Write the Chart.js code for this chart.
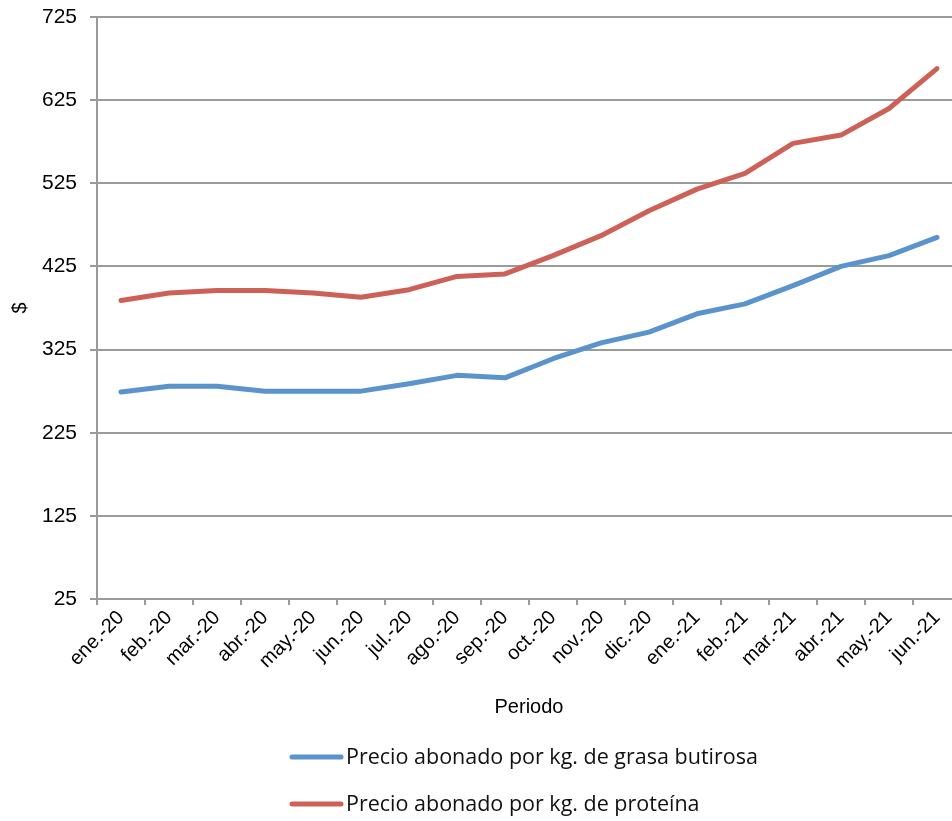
<!DOCTYPE html>
<html>
<head>
<meta charset="utf-8">
<script src="https://cdn.jsdelivr.net/npm/chart.js@4/dist/chart.umd.min.js"></script>
<style>
  html, body { margin: 0; padding: 0; background: #fff; overflow: hidden; }
  #wrap { position: relative; width: 975px; height: 821px; }
</style>
</head>
<body>
<div id="wrap"><canvas id="c"></canvas></div>
<script>
/* datos del gráfico */
const periodos = ['ene.-20','feb.-20','mar.-20','abr.-20','may.-20','jun.-20','jul.-20','ago.-20','sep.-20',
  'oct.-20','nov.-20','dic.-20','ene.-21','feb.-21','mar.-21','abr.-21','may.-21','jun.-21'];
const grasa = [274, 281, 281, 275, 275, 275, 284, 294, 291, 314, 333, 346, 368, 380, 402, 425, 438, 460];
const proteina = [384, 393, 396, 396, 393, 388, 397, 413, 416, 438, 462, 492, 518, 537, 573, 583, 615, 663];
const yTicks = [25, 125, 225, 325, 425, 525, 625, 725];
const nombres = ['Precio abonado por kg. de grasa butirosa', 'Precio abonado por kg. de proteína'];

const AZUL = '#5b93cc';
const ROJO = '#cd6158';
const GRIS = '#9a9a9a';
const fuenteEje = 'Liberation Sans, Arial, sans-serif';

// leyenda vertical dibujada a mano debajo del eje
const leyendaPlugin = {
  id: 'leyenda',
  afterDraw(chart) {
    const ctx = chart.ctx;
    ctx.save();
    chart.data.datasets.forEach((ds, i) => {
      const y = 757 + i * 47;
      ctx.strokeStyle = ds.borderColor;
      ctx.lineWidth = 5;
      ctx.lineCap = 'round';
      ctx.beginPath();
      ctx.moveTo(292, y);
      ctx.lineTo(341, y);
      ctx.stroke();
      ctx.fillStyle = '#111';
      ctx.font = '21.5px "Open Sans", sans-serif';
      ctx.textBaseline = 'middle';
      ctx.textAlign = 'left';
      ctx.fillText(ds.label, 346, y + 1);
    });
    ctx.restore();
  }
};

new Chart(document.getElementById('c'), {
  type: 'line',
  data: {
    labels: periodos,
    datasets: [
      { label: nombres[0], data: grasa, borderColor: AZUL, backgroundColor: AZUL },
      { label: nombres[1], data: proteina, borderColor: ROJO, backgroundColor: ROJO }
    ]
  },
  options: {
    responsive: true,
    maintainAspectRatio: false,
    animation: false,
    devicePixelRatio: 1,
    layout: { padding: { top: 17, right: 14, bottom: 102, left: 0 } },
    elements: {
      line: { borderWidth: 5, tension: 0, borderCapStyle: 'round', borderJoinStyle: 'round' },
      point: { radius: 0, hoverRadius: 0 }
    },
    plugins: { legend: { display: false }, tooltip: { enabled: false } },
    scales: {
      x: {
        offset: true,
        grid: { offset: true, drawOnChartArea: false, drawTicks: true, tickLength: 6, color: GRIS, lineWidth: 2 },
        border: { display: true, color: GRIS, width: 2 },
        ticks: { color: '#000', font: { family: fuenteEje, size: 20 }, minRotation: 45, maxRotation: 45, autoSkip: false, padding: 1 },
        title: { display: true, text: 'Periodo', color: '#000', font: { family: fuenteEje, size: 20 }, padding: { top: 4, bottom: 0 } },
        afterFit(scale) { scale.height = 120; }
      },
      y: {
        min: 25,
        max: 725,
        afterBuildTicks(scale) { scale.ticks = yTicks.map(v => ({ value: v })); },
        grid: { color: GRIS, lineWidth: 2, drawTicks: true, tickLength: 7 },
        border: { display: true, color: GRIS, width: 2 },
        ticks: { color: '#000', font: { family: fuenteEje, size: 21 }, padding: 13 },
        title: { display: true, text: '$', color: '#000', font: { family: fuenteEje, size: 20 }, padding: { top: 8, bottom: 0 } },
        afterFit(scale) {
          scale.width = 97;
          scale.paddingTop = 0;
          scale.paddingBottom = 0;
        }
      }
    }
  },
  plugins: [leyendaPlugin]
});
</script>
</body>
</html>
